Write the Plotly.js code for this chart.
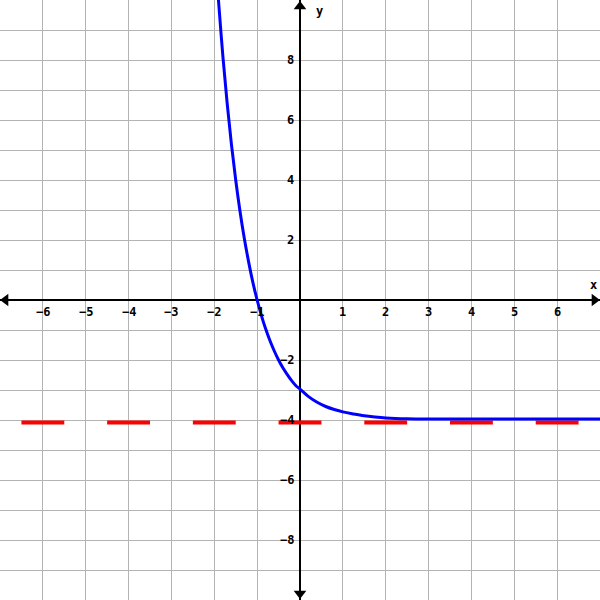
<!DOCTYPE html>
<html><head><meta charset="utf-8">
<script src="https://cdn.plot.ly/plotly-3.0.1.min.js"></script>
<style>body{margin:0;padding:0;}#c{width:600px;height:600px;}</style>
</head><body><div id="c"></div>
<script>
// Curve values
const curveX = [-1.93, -1.9, -1.8, -1.7, -1.6, -1.5, -1.4, -1.3, -1.2, -1.1, -1.0, -0.9, -0.8, -0.7, -0.6, -0.5, -0.4, -0.3, -0.2, -0.1, 0, 0.2, 0.4, 0.6, 0.8, 1.0, 1.25, 1.5, 1.75, 2.0, 2.5, 3, 4, 5, 6, 7];
const curveY = [10.5, 9.95, 8.13, 6.56, 5.19, 4.0, 2.96, 2.06, 1.28, 0.59, 0, -0.52, -0.97, -1.36, -1.70, -2.0, -2.26, -2.48, -2.68, -2.85, -2.97, -3.22, -3.41, -3.55, -3.65, -3.73, -3.80, -3.86, -3.90, -3.93, -3.96, -3.97, -3.97, -3.97, -3.97, -3.97];
// Asymptote dashes (centres of red segments), drawn just under y = -4
const asymLevel = -4.08;
const dashCentres = [-6, -4, -2, 0, 2, 4, 6];
const dashHalf = 0.5;
// Tick labels
const xTickVals = [-6, -5, -4, -3, -2, -1, 1, 2, 3, 4, 5, 6];
const yTickVals = [8, 6, 4, 2, -2, -4, -6, -8];
const xRange = [-7, 7];
const yRange = [-10, 10];

const dX = [], dY = [];
dashCentres.forEach(c => { dX.push(c - dashHalf, c + dashHalf, null); dY.push(asymLevel, asymLevel, null); });

const fmt = v => '<b>' + String(v).replace('-', '\u2212') + '</b>';
const font = {family: '"DejaVu Sans Mono", "Liberation Mono", monospace', size: 12, color: '#000'};
const annotations = [];
xTickVals.forEach(v => annotations.push({x: v, y: 0, xref: 'x', yref: 'y', text: fmt(v), showarrow: false, yshift: -12, font: font}));
yTickVals.forEach(v => annotations.push({x: 0, y: v, xref: 'x', yref: 'y', text: fmt(v), showarrow: false, xanchor: 'right', xshift: -4, font: font}));
annotations.push({x: 6.85, y: 0, xref: 'x', yref: 'y', text: '<b>x</b>', showarrow: false, yshift: 15, font: font});
annotations.push({x: 0, y: 9.65, xref: 'x', yref: 'y', text: '<b>y</b>', showarrow: false, xanchor: 'left', xshift: 14, font: font});

const traces = [
  {x: dX, y: dY, mode: 'lines', line: {color: '#ff0000', width: 4}, hoverinfo: 'skip', connectgaps: false},
  {x: curveX, y: curveY, mode: 'lines', line: {color: '#0000ff', width: 3, shape: 'spline'}, hoverinfo: 'skip'},
  {x: [xRange[0] + 0.13, xRange[1] - 0.13], y: [0, 0], mode: 'markers', marker: {symbol: ['triangle-left', 'triangle-right'], size: 11, color: '#000'}, hoverinfo: 'skip'},
  {x: [0, 0], y: [yRange[1] - 0.22, yRange[0] + 0.22], mode: 'markers', marker: {symbol: ['triangle-up', 'triangle-down'], size: 11, color: '#000'}, hoverinfo: 'skip'}
];

const axisCommon = {showgrid: true, gridcolor: '#b4b4b4', gridwidth: 1, dtick: 1, zeroline: true, zerolinecolor: '#000', zerolinewidth: 2, showticklabels: false, ticks: '', showline: true, linecolor: '#000', linewidth: 1, mirror: true, fixedrange: true};
const layout = {
  width: 600, height: 600, margin: {l: 0, r: 0, t: 0, b: 0},
  paper_bgcolor: '#fff', plot_bgcolor: '#fff', showlegend: false,
  xaxis: Object.assign({}, axisCommon, {range: xRange, tick0: 0}),
  yaxis: Object.assign({}, axisCommon, {range: yRange, tick0: 0}),
  annotations: annotations
};
Plotly.newPlot('c', traces, layout, {staticPlot: true, displayModeBar: false});
</script></body></html>
